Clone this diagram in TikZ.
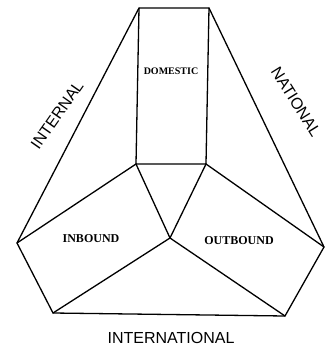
\documentclass[tikz,border=0pt]{standalone}
\usepackage{fontspec}
\setmainfont{Liberation Serif}
\newfontfamily\labelsans{Liberation Sans}
\begin{document}
\begin{tikzpicture}[x=1pt,y=-1pt,
  edge/.style={line width=1.3pt, line join=round, line cap=round},
  outer/.style={font=\labelsans\fontsize{16}{16}\selectfont, inner sep=0pt},
  inner/.style={font=\bfseries\fontsize{12}{12}\selectfont, inner sep=0pt}]
\useasboundingbox (0,0) rectangle (331,349);
\coordinate (tl) at (139,8);
\coordinate (tr) at (209,8);
\coordinate (bl) at (136,164);
\coordinate (br) at (206,164);
\coordinate (c) at (170,238);
\coordinate (L) at (17,243);
\coordinate (R) at (324,247);
\coordinate (BL) at (53,313);
\coordinate (BR) at (285,316);
\draw[edge] (tl) -- (tr) -- (br) -- (bl) -- cycle;
\draw[edge] (tl) -- (L) -- (BL) -- (BR) -- (R) -- (tr);
\draw[edge] (bl) -- (L);
\draw[edge] (br) -- (R);
\draw[edge] (bl) -- (c) -- (br);
\draw[edge] (BL) -- (c) -- (BR);
\node[inner, font=\bfseries\fontsize{10}{10}\selectfont] (dom) at (171,71) {DOMESTIC};
\node[inner] (inb) at (91,239) {INBOUND};
\node[inner] (outb) at (239,241) {OUTBOUND};
\node[outer, rotate=55] (intl) at (57,115) {INTERNAL};
\node[outer, rotate=-58] (nat) at (296,102) {NATIONAL};
\node[outer] (intn) at (171,338) {INTERNATIONAL};
\end{tikzpicture}
\end{document}
